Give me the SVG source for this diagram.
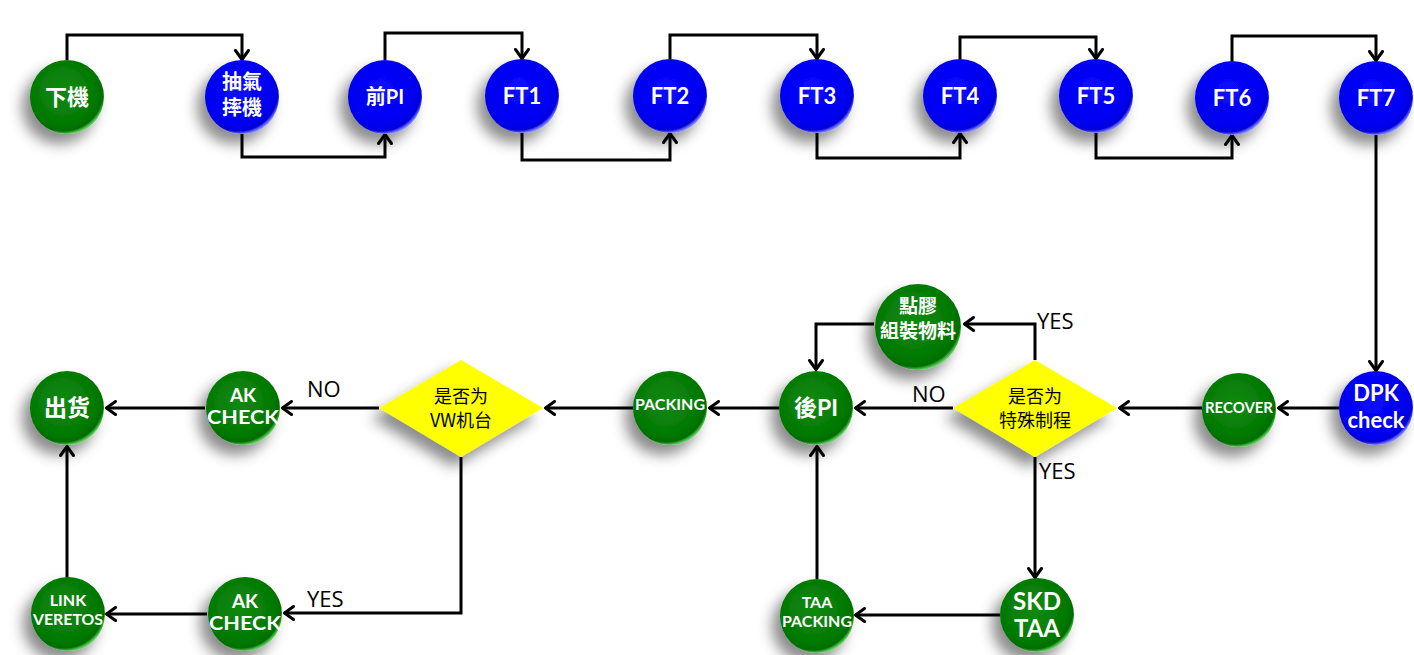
<svg xmlns="http://www.w3.org/2000/svg" width="1414" height="655" viewBox="0 0 1414 655">
<defs>
  <radialGradient id="gGreen" cx="0.45" cy="0.42" r="0.58">
    <stop offset="0" stop-color="#0f8a0f"/>
    <stop offset="0.8" stop-color="#037803"/>
    <stop offset="0.93" stop-color="#006c00"/>
    <stop offset="1" stop-color="#5ccc5c"/>
  </radialGradient>
  <radialGradient id="gBlue" cx="0.45" cy="0.42" r="0.58">
    <stop offset="0" stop-color="#0a0aff"/>
    <stop offset="0.8" stop-color="#0000f0"/>
    <stop offset="0.93" stop-color="#0000d6"/>
    <stop offset="1" stop-color="#7a7aff"/>
  </radialGradient>
  <filter id="shadow" x="-60%" y="-60%" width="220%" height="220%">
    <feDropShadow dx="-8" dy="10" stdDeviation="7" flood-color="#000" flood-opacity="0.45"/>
  </filter>
  <marker id="arr" viewBox="0 0 12 16" refX="11" refY="8" markerWidth="12" markerHeight="16" markerUnits="userSpaceOnUse" orient="auto">
    <path d="M1.5,1.5 L10.5,8 L1.5,14.5" fill="none" stroke="#000" stroke-width="3" stroke-linecap="round" stroke-linejoin="round"/>
  </marker>
  <style>
    .g { fill: url(#gGreen); filter: url(#shadow); }
    .b { fill: url(#gBlue); filter: url(#shadow); }
    .d { fill: #ffff00; filter: url(#shadow); }
    .t { fill: #fff; font-family: "Lato", "Open Sans", "Noto Sans CJK TC", sans-serif; font-weight: bold; text-anchor: middle; }
    .dt { fill: #000; font-family: "Noto Sans CJK SC", sans-serif; font-size: 18px; text-anchor: middle; }
    .lbl { fill: #000; font-family: "Open Sans", "Liberation Sans", sans-serif; font-size: 22px; }
    .c { fill: none; stroke: #000; stroke-width: 3; marker-end: url(#arr); }
  </style>
</defs>
<rect width="1414" height="655" fill="#fff"/>

<g id="connectors">
  <path class="c" d="M67,60 V35 H242 V60"/>
  <path class="c" d="M242,134 V157 H385 V134"/>
  <path class="c" d="M385,60 V33 H522 V59"/>
  <path class="c" d="M522,133 V160 H670 V133"/>
  <path class="c" d="M670,59 V35 H817 V59"/>
  <path class="c" d="M817,133 V158 H960 V133"/>
  <path class="c" d="M960,59 V37 H1096 V59"/>
  <path class="c" d="M1096,133 V158 H1232 V135"/>
  <path class="c" d="M1232,61 V36 H1376 V61"/>
  <path class="c" d="M1376,135 V371"/>
  <path class="c" d="M1339,408 H1278"/>
  <path class="c" d="M1202,408 H1119"/>
  <path class="c" d="M1035,360 V324 H964"/>
  <path class="c" d="M874,324 H816 V370"/>
  <path class="c" d="M953,408 H855"/>
  <path class="c" d="M1035,457 V578"/>
  <path class="c" d="M1000,615 H855"/>
  <path class="c" d="M817,579 V446"/>
  <path class="c" d="M779,408 H709"/>
  <path class="c" d="M633,408 H545"/>
  <path class="c" d="M379,408 H282"/>
  <path class="c" d="M205,408 H106"/>
  <path class="c" d="M461,457 V613 H284"/>
  <path class="c" d="M207,614 H106"/>
  <path class="c" d="M67,578 V446"/>
  <text class="lbl" x="1037" y="329">YES</text>
  <text class="lbl" x="912" y="402">NO</text>
  <text class="lbl" x="1039" y="479">YES</text>
  <text class="lbl" x="307" y="397">NO</text>
  <text class="lbl" x="307" y="607">YES</text>
</g>

<g id="n-xiaji"><circle class="g" cx="67" cy="97" r="37"/><text class="t" x="67" y="105" font-size="22">下機</text></g>
<g id="n-chouqi"><circle class="b" cx="242" cy="97" r="37"/><text class="t" x="242" y="89" font-size="20">抽氣</text><text class="t" x="242" y="115" font-size="20">摔機</text></g>
<g id="n-qianpi"><circle class="b" cx="385" cy="97" r="37"/><text class="t" x="385" y="104" font-size="20">前PI</text></g>
<g id="n-ft1"><circle class="b" cx="522" cy="96" r="37"/><text class="t" x="522" y="104" font-size="22">FT1</text></g>
<g id="n-ft2"><circle class="b" cx="670" cy="96" r="37"/><text class="t" x="670" y="104" font-size="22">FT2</text></g>
<g id="n-ft3"><circle class="b" cx="817" cy="96" r="37"/><text class="t" x="817" y="104" font-size="22">FT3</text></g>
<g id="n-ft4"><circle class="b" cx="960" cy="96" r="37"/><text class="t" x="960" y="104" font-size="22">FT4</text></g>
<g id="n-ft5"><circle class="b" cx="1096" cy="96" r="37"/><text class="t" x="1096" y="104" font-size="22">FT5</text></g>
<g id="n-ft6"><circle class="b" cx="1232" cy="98" r="37"/><text class="t" x="1232" y="106" font-size="22">FT6</text></g>
<g id="n-ft7"><circle class="b" cx="1376" cy="98" r="37"/><text class="t" x="1376" y="106" font-size="22">FT7</text></g>

<g id="n-dpk"><circle class="b" cx="1376" cy="408" r="37"/><text class="t" x="1376" y="401" font-size="22">DPK</text><text class="t" x="1376" y="428" font-size="22">check</text></g>
<g id="n-recover"><circle class="g" cx="1239" cy="410" r="37"/><text class="t" x="1239" y="413" font-size="16" textLength="68" lengthAdjust="spacingAndGlyphs">RECOVER</text></g>
<g id="n-tesu"><polygon class="d" points="1035,360 1117,408 1035,457 953,408"/><text class="dt" x="1035" y="403">是否为</text><text class="dt" x="1035" y="427">特殊制程</text></g>
<g id="n-dianjiao"><circle class="g" cx="918" cy="327" r="43"/><text class="t" x="918" y="313" font-size="19">點膠</text><text class="t" x="918" y="338" font-size="19">組裝物料</text></g>
<g id="n-houpi"><circle class="g" cx="816" cy="408" r="37"/><text class="t" x="816" y="416" font-size="23">後PI</text></g>
<g id="n-packing"><circle class="g" cx="670" cy="408" r="37"/><text class="t" x="670" y="410" font-size="16" textLength="70" lengthAdjust="spacingAndGlyphs">PACKING</text></g>
<g id="n-vw"><polygon class="d" points="461,360 543,408 461,457 379,408"/><text class="dt" x="461" y="403">是否为</text><text class="dt" x="461" y="427">VW机台</text></g>
<g id="n-akcheck1"><circle class="g" cx="243" cy="408" r="37"/><text class="t" x="243" y="402" font-size="19">AK</text><text class="t" x="243" y="424" font-size="19" textLength="72" lengthAdjust="spacingAndGlyphs">CHECK</text></g>
<g id="n-chuhuo"><circle class="g" cx="67" cy="408" r="37"/><text class="t" x="67" y="416" font-size="23">出货</text></g>
<g id="n-skd"><circle class="g" cx="1037" cy="615" r="37"/><text class="t" x="1037" y="610" font-size="24">SKD</text><text class="t" x="1037" y="637" font-size="24">TAA</text></g>
<g id="n-taapacking"><circle class="g" cx="817" cy="616" r="37"/><text class="t" x="817" y="608" font-size="16">TAA</text><text class="t" x="817" y="627" font-size="16" textLength="70" lengthAdjust="spacingAndGlyphs">PACKING</text></g>
<g id="n-akcheck2"><circle class="g" cx="245" cy="614" r="37"/><text class="t" x="245" y="608" font-size="19">AK</text><text class="t" x="245" y="630" font-size="19" textLength="72" lengthAdjust="spacingAndGlyphs">CHECK</text></g>
<g id="n-link"><circle class="g" cx="68" cy="614" r="37"/><text class="t" x="68" y="606" font-size="16">LINK</text><text class="t" x="68" y="625" font-size="16" textLength="70" lengthAdjust="spacingAndGlyphs">VERETOS</text></g>
</svg>
